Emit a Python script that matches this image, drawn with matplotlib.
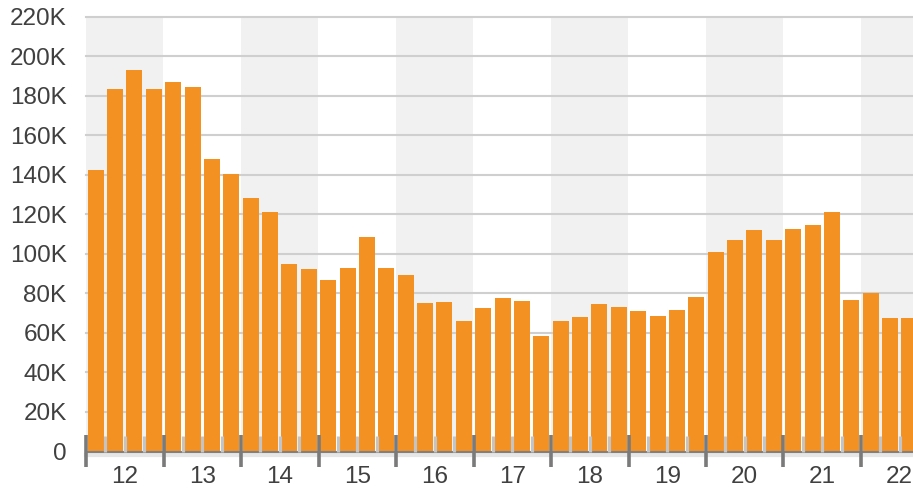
import matplotlib
matplotlib.use("Agg")
import matplotlib.pyplot as plt
import numpy as np

# ---- data ----
years = list(range(2012, 2023))
year_labels = ["12", "13", "14", "15", "16", "17", "18", "19", "20", "21", "22"]
values_k = [142.5, 183.5, 193, 183.5,
            187, 184.5, 148, 140.5,
            128, 121, 95, 92.5,
            86.5, 93, 108.5, 93,
            89.5, 75, 75.5, 65.8,
            72.7, 77.7, 76.2, 58.2,
            65.8, 67.8, 74.8, 73.2,
            71.2, 68.7, 71.8, 78.2,
            101, 107.2, 112, 107.2,
            112.3, 114.3, 120.9, 76.5,
            80, 67.4, 67.4]
y_ticks = [0, 20000, 40000, 60000, 80000, 100000, 120000, 140000, 160000, 180000, 200000, 220000]
y_tick_labels = ["0", "20K", "40K", "60K", "80K", "100K", "120K", "140K", "160K", "180K", "200K", "220K"]

values = np.array(values_k) * 1000
x = 2012 + 0.125 + 0.25 * np.arange(len(values))

W, H = 913, 490
fig = plt.figure(figsize=(W / 100, H / 100), dpi=100)
left, right, top, bottom = 86, 913, 16.5, 451.5
ax = fig.add_axes([left / W, 1 - bottom / H, (right - left) / W, (bottom - top) / H])

xmax = 2012 + (913 - 86) / 77.5
ax.set_xlim(2012, xmax)
ax.set_ylim(0, 220000)

font = "Liberation Sans"
tc = "#404040"
fs = 17.5

# alternating bands
for i, yr in enumerate(years):
    if i % 2 == 0:
        ax.axvspan(yr, yr + 1, color="#f1f1f1", zorder=0, lw=0)

# gridlines
for yt in y_ticks[1:]:
    ax.axhline(yt, color="#cfcfcf", lw=1.5, zorder=0.5, clip_on=False)

ax.bar(x, values, width=0.25 * 0.83, color="#F39123", zorder=2, linewidth=0)

for s in ax.spines.values():
    s.set_visible(False)
ax.set_xticks([])
ax.set_yticks(y_ticks)
ax.set_yticklabels(y_tick_labels, fontsize=fs, color=tc, family=font)
ax.tick_params(axis="y", length=0, pad=14)

trans = ax.get_xaxis_transform()
ah = bottom - top
# baseline
ax.plot([2012, xmax], [0, 0], transform=trans, color="#808080", lw=1.5, zorder=3, clip_on=False)
ax.plot([2012, xmax], [-3 / ah, -3 / ah], transform=trans, color="#e6e6e6", lw=3, zorder=2.9, clip_on=False)

# quarter ticks
for yr in years:
    for q in (0.25, 0.5, 0.75):
        xv = yr + q
        if xv < xmax:
            ax.plot([xv, xv], [0, 16 / ah], transform=trans, color="#c4c4c4", lw=2.3,
                    zorder=3, clip_on=False, solid_capstyle="butt")
# year ticks
for yr in years:
    ax.plot([yr, yr], [-15.5 / ah, 16.5 / ah], transform=trans, color="#7a7a7a", lw=2.6,
            zorder=4, clip_on=False, solid_capstyle="butt")

for yr, lab in zip(years, year_labels):
    ax.text(yr + 0.5, -25.5 / ah, lab, transform=trans, ha="center", va="center",
            fontsize=fs, color=tc, family=font, clip_on=False)

fig.savefig("out.png", dpi=100)
